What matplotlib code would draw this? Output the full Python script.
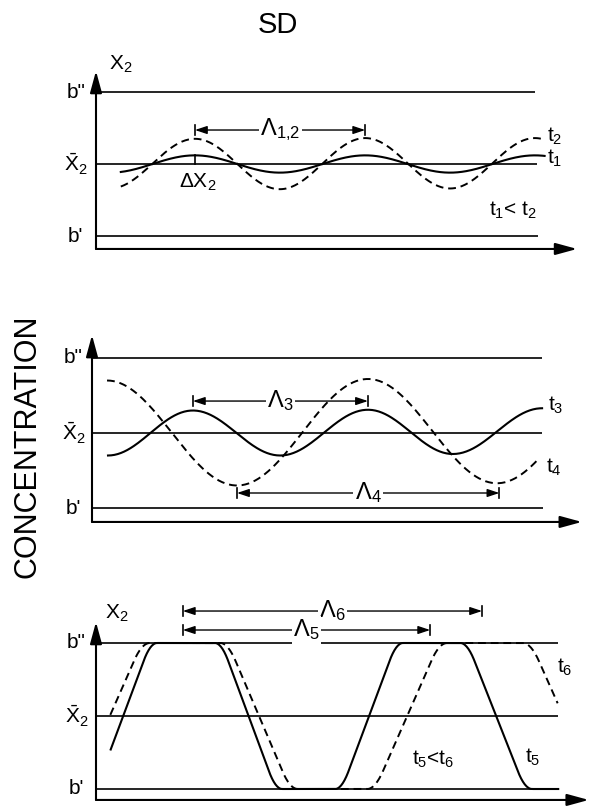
import numpy as np
import matplotlib
matplotlib.use('Agg')
import matplotlib.pyplot as plt

plt.rcParams['font.family'] = ['Liberation Sans', 'DejaVu Sans']
plt.rcParams['mathtext.fontset'] = 'custom'
plt.rcParams['mathtext.rm'] = 'Liberation Sans'
plt.rcParams['mathtext.it'] = 'Liberation Sans'
plt.rcParams['mathtext.bf'] = 'Liberation Sans:bold'

# ---------------- data (distance units 0..100, concentration b'=0, X̄2=0.5, b''=1)
level_values = [0.0, 0.5, 1.0]
level_labels = ["b'", r'$\bar{\mathrm{X}}_2$', 'b"']

# panel 1 : early stage, t1 < t2
p1_ext_x = [2.9, 20.4, 37.9, 55.5, 73.0, 90.5, 108.0]
p1_t1_y = [0.44, 0.56, 0.44, 0.56, 0.44, 0.56, 0.44]
p1_t2_y = [0.33, 0.675, 0.325, 0.68, 0.33, 0.68, 0.33]
p1_range = [4.95, 92.6]
p1_level_end = [91.1, 90.9, 90.5]
p1_lambda = [20.4, 55.5]

# panel 2 : coarsening t3 -> t4
p2_t3_x = [3.3, 20.8, 38.8, 56.9, 74.4, 92.8]
p2_t3_y = [0.35, 0.65, 0.35, 0.655, 0.36, 0.665]
p2_t3_range = [3.3, 92.8]
p2_t4_x = [3.1, 29.9, 56.9, 83.5, 110.0]
p2_t4_y = [0.85, 0.15, 0.86, 0.165, 0.85]
p2_t4_range = [3.1, 92.0]
p2_level_end = [93.0, 92.8, 92.8]
p2_lambda3 = [20.8, 56.9]
p2_lambda4 = [29.9, 84.0]

# panel 3 : late stage, t5 < t6
p3_t5_x = [-1.4, 12.6, 24.5, 38.4, 49.3, 63.3, 75.1, 89.9, 95.3]
p3_t5_y = [0, 1, 1, 0, 0, 1, 1, 0, 0]
p3_t6_x = [-5.4, 11.1, 25.6, 41.6, 55.9, 72.4, 88.0, 104.7]
p3_t6_y = [0, 1, 1, 0, 0, 1, 1, 0]
p3_range = [2.9, 95.3]
p3_level_end = [95.3, 95.3, 95.3]
p3_lambda5 = [17.9, 68.9]
p3_lambda6 = [17.9, 79.6]

# ---------------- figure
W, H = 589, 809
fig = plt.figure(figsize=(W / 100, H / 100), dpi=100)
fig.patch.set_facecolor('white')

XS = 4.85  # px per distance unit
FS = 15


def panel_axes(top, bottom, x0, y0, ys):
    ax = fig.add_axes([0, 1 - bottom / H, 1, (bottom - top) / H])
    ax.set_xlim((0 - x0) / XS, (W - x0) / XS)
    ax.set_ylim((y0 - bottom) / ys, (y0 - top) / ys)
    ax.set_axis_off()
    return ax


def ease_cos(t):
    return (1 - np.cos(np.pi * t)) / 2


def ease_trap(t, a=0.2):
    k = 1.0 / (2 * a * (1 - a))
    return np.where(t < a, k * t ** 2,
                    np.where(t > 1 - a, 1 - k * (1 - t) ** 2,
                             (t - a / 2) / (1 - a)))


def smooth(kx, ky, rng, ease=ease_cos, n=80):
    xs, ys = [], []
    for i in range(len(kx) - 1):
        t = np.linspace(0, 1, n)
        xs.append(kx[i] + t * (kx[i + 1] - kx[i]))
        ys.append(ky[i] + (ky[i + 1] - ky[i]) * ease(t))
    x = np.concatenate(xs)
    y = np.concatenate(ys)
    m = (x >= rng[0]) & (x <= rng[1])
    return x[m], y[m]


def axis_arrows(ax, ybase, xtip, ytip):
    kw = dict(arrowstyle='-|>,head_length=1.1,head_width=0.3', mutation_scale=12,
              lw=1.5, color='k', shrinkA=0, shrinkB=0)
    ax.annotate('', xy=(xtip, ybase), xytext=(0, ybase), arrowprops=kw)
    ax.annotate('', xy=(0, ytip), xytext=(0, ybase), arrowprops=kw)


def levels(ax, ends, label_x):
    for v, lab, e in zip(level_values, level_labels, ends):
        ax.plot([0, e], [v, v], color='k', lw=1.2, solid_capstyle='butt')
        ax.text(label_x, v, lab, ha='center', va='center', fontsize=FS)


def span_arrow(ax, x1, x2, y, label, fs=17, bar=0.035):
    ax.annotate('', xy=(x1, y), xytext=(x2, y),
                arrowprops=dict(arrowstyle='<|-|>,head_length=0.9,head_width=0.3',
                                mutation_scale=8, lw=1.0, color='k',
                                shrinkA=0, shrinkB=0))
    ax.plot([x1, x1], [y - bar, y + bar], color='k', lw=1.2)
    ax.plot([x2, x2], [y - bar, y + bar], color='k', lw=1.2)
    ax.text((x1 + x2) / 2, y, label, ha='center', va='center', fontsize=fs,
            bbox=dict(fc='white', ec='none', pad=1.0), zorder=5)


DASH = (0, (4, 2.5))

# ---------- panel 1
ax1 = panel_axes(50, 270, 96, 236, 144)
axis_arrows(ax1, -0.09, 99.2, 1.146)
levels(ax1, p1_level_end, -4.2)
ax1.text(5.0, 1.19, r'X$_2$', ha='center', va='center', fontsize=FS)
x, y = smooth(p1_ext_x, p1_t1_y, p1_range)
ax1.plot(x, y, color='k', lw=1.5)
x, y = smooth(p1_ext_x, p1_t2_y, p1_range)
ax1.plot(x, y, color='k', lw=1.4, linestyle=DASH)
ax1.plot([p1_ext_x[1], p1_ext_x[1]], [level_values[1], p1_t1_y[1]], color='k', lw=1.2)
ax1.text(21, 0.37, r'ΔX$_2$', ha='center', va='center', fontsize=FS)
span_arrow(ax1, p1_lambda[0], p1_lambda[1], 0.736, r'$\Lambda_{1{,}2}$')
ax1.text(93.0, 0.69, r't$_2$', ha='left', va='center', fontsize=FS)
ax1.text(93.0, 0.54, r't$_1$', ha='left', va='center', fontsize=FS)
ax1.text(86.0, 0.18, r't$_1$< t$_2$', ha='center', va='center', fontsize=FS)

# ---------- panel 2
ax2 = panel_axes(320, 540, 92, 508, 150)
axis_arrows(ax2, -0.093, 101.0, 1.153)
levels(ax2, p2_level_end, -3.8)
x, y = smooth(p2_t3_x, p2_t3_y, p2_t3_range)
ax2.plot(x, y, color='k', lw=1.5)
x, y = smooth(p2_t4_x, p2_t4_y, p2_t4_range)
ax2.plot(x, y, color='k', lw=1.4, linestyle=DASH)
span_arrow(ax2, p2_lambda3[0], p2_lambda3[1], 0.713, r'$\Lambda_3$')
span_arrow(ax2, p2_lambda4[0], p2_lambda4[1], 0.10, r'$\Lambda_4$')
ax2.text(94.0, 0.687, r't$_3$', ha='left', va='center', fontsize=FS)
ax2.text(93.6, 0.273, r't$_4$', ha='left', va='center', fontsize=FS)

# ---------- panel 3
ax3 = panel_axes(590, 809, 96, 789, 146)
axis_arrows(ax3, -0.075, 101.6, 1.144)
levels(ax3, p3_level_end, -4.0)
ax3.text(4.3, 1.205, r'X$_2$', ha='center', va='center', fontsize=FS)
x, y = smooth(p3_t5_x, p3_t5_y, p3_range, ease=ease_trap)
ax3.plot(x, y, color='k', lw=1.5)
x, y = smooth(p3_t6_x, p3_t6_y, p3_range, ease=ease_trap)
ax3.plot(x, y, color='k', lw=1.4, linestyle=DASH)
span_arrow(ax3, p3_lambda6[0], p3_lambda6[1], 1.219, r'$\Lambda_6$')
span_arrow(ax3, p3_lambda5[0], p3_lambda5[1], 1.089, r'$\Lambda_5$')
ax3.text(95.0, 0.83, r't$_6$', ha='left', va='center', fontsize=FS)
ax3.text(90.1, 0.22, r't$_5$', ha='center', va='center', fontsize=FS)
ax3.text(69.5, 0.20, r't$_5$<t$_6$', ha='center', va='center', fontsize=FS)

# ---------- titles
fig.text(278 / W, 1 - 25 / H, 'SD', ha='center', va='center', fontsize=21)
fig.text(28 / W, 1 - 446 / H, 'CONCENTRATION', ha='center', va='center',
         rotation=90, fontsize=22)

fig.savefig('out.png', dpi=100, facecolor='white')
